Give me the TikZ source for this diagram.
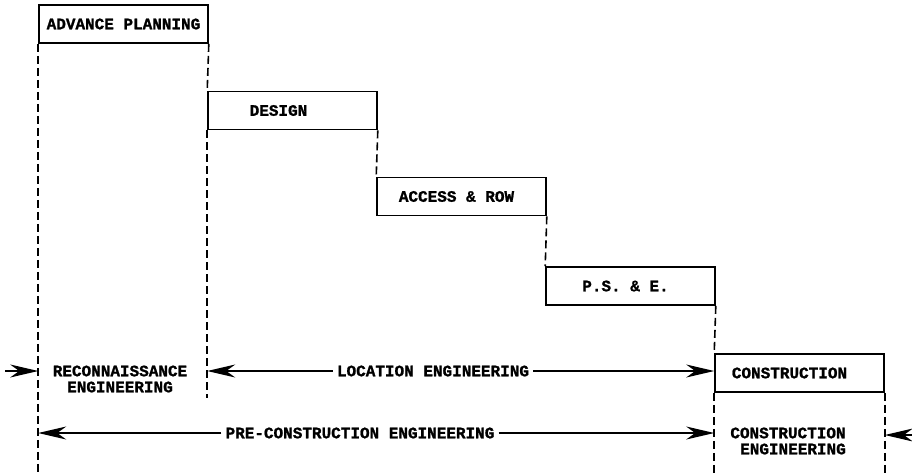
\documentclass[tikz,border=0pt]{standalone}
\usepackage{fontspec}
\setmainfont{Liberation Mono}[BoldFeatures={FakeBold=1.2}]
\usetikzlibrary{arrows.meta}

\begin{document}
\begin{tikzpicture}[
    x=1pt, y=-1pt,
    font=\bfseries\fontsize{16}{16}\selectfont,
    stage/.style={
        rectangle,
        draw,
        line width=1.6pt,
        minimum width=169pt,
        minimum height=38pt,
        inner sep=1pt
    },
    guide/.style={
        dash pattern=on 8pt off 4pt,
        line width=1.6pt
    },
    span/.style={
        line width=1.3pt,
        -{Stealth[length=28pt,width=13pt,inset=9pt]}
    },
    phase/.style={
        align=center,
        inner sep=4pt
    }
]

\useasboundingbox (0,0) rectangle (912,474);

\node[stage] (advance) at (123.5,24) {ADVANCE PLANNING};
\node[stage] (design) at (292.5,110.5) {DESIGN\hspace*{28pt}};
\node[stage] (access) at (461.5,196.5) {ACCESS \& ROW\hspace*{10pt}};
\node[stage] (pse) at (630.5,286) {P.S. \& E.\hspace*{10pt}};
\node[stage] (constr) at (799.5,373) {CONSTRUCTION\hspace*{20pt}};

\coordinate (bottom) at (0,474);

\draw[guide] (advance.south west) -- (advance.south west |- bottom);
\draw[guide] (advance.south east) -- (design.north west);
\draw[guide] (design.south west) -- ++(0,268);
\draw[guide] (design.south east) -- (access.north west);
\draw[guide] (access.south east) -- (pse.north west);
\draw[guide] (pse.south east) -- (constr.north west);
\draw[guide] (constr.south west) -- (constr.south west |- bottom);
\draw[guide] (constr.south east) -- (constr.south east |- bottom);

\node[phase] (recon) at (120,379) {RECONNAISSANCE\\ENGINEERING};
\node[phase] (location) at (433,371) {LOCATION ENGINEERING};
\node[phase] (precon) at (360,433) {PRE-CONSTRUCTION ENGINEERING};
\node[phase] (conseng) at (788,441) {CONSTRUCTION\\\hspace*{10pt}ENGINEERING};

\coordinate (inleft) at (5,371);
\coordinate (inright) at (912,435);

\draw[span] (inleft) -- (inleft -| advance.west);
\draw[span] (location.west) -- (location.west -| design.west);
\draw[span] (location.east) -- (location.east -| constr.west);
\draw[span] (precon.west) -- (precon.west -| advance.west);
\draw[span] (precon.east) -- (precon.east -| constr.west);
\draw[span] (inright) -- (inright -| constr.east);

\end{tikzpicture}
\end{document}
